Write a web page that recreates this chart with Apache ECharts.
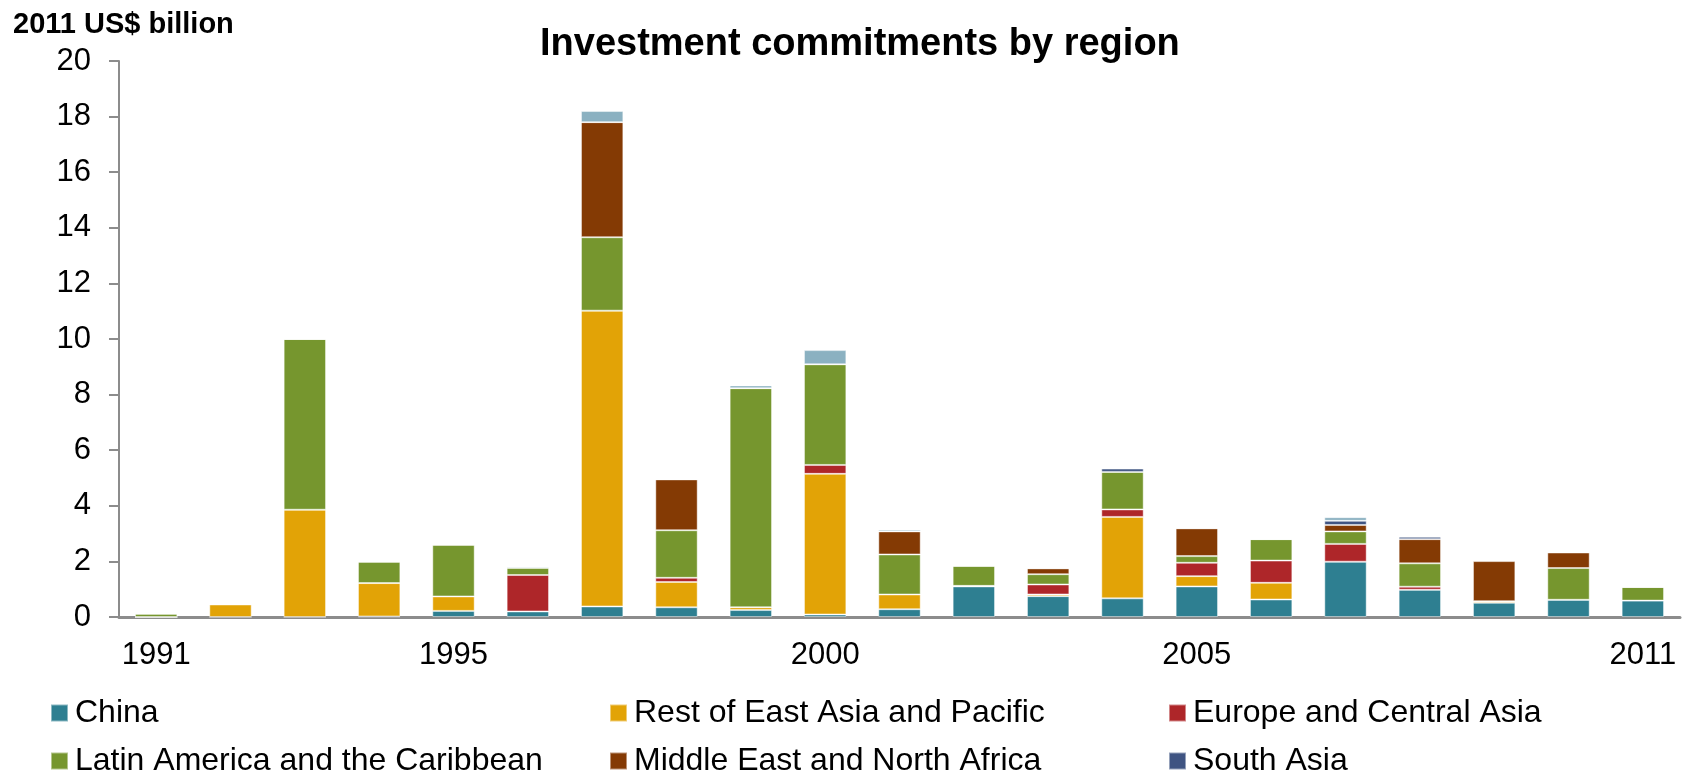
<!DOCTYPE html>
<html>
<head>
<meta charset="utf-8">
<title>Investment commitments by region</title>
<script src="https://cdn.jsdelivr.net/npm/echarts@6/dist/echarts.min.js"></script>
<style>
  html, body { margin: 0; padding: 0; background: #fff; }
  #chart { width: 1684px; height: 772px; }
</style>
</head>
<body>
<div id="chart"></div>
<script>
// 数据：2011 US$ billion
const years = ['1991', '1992', '1993', '1994', '1995', '1996', '1997', '1998', '1999', '2000',
  '2001', '2002', '2003', '2004', '2005', '2006', '2007', '2008', '2009', '2010', '2011']
const xTickLabels = ['1991', '1995', '2000', '2005', '2011']

const china = [0, 0, 0, 0.02, 0.22, 0.2, 0.38, 0.35, 0.25, 0.09, 0.28, 1.1, 0.75, 0.67, 1.1, 0.63, 1.99, 0.98, 0.51, 0.62, 0.59]
const restEastAsia = [0, 0.45, 3.86, 1.2, 0.52, 0, 10.64, 0.91, 0.1, 5.06, 0.53, 0.02, 0.06, 2.93, 0.37, 0.6, 0, 0, 0.06, 0, 0]
const europeCentralAsia = [0, 0, 0, 0, 0, 1.31, 0, 0.15, 0, 0.32, 0, 0, 0.36, 0.27, 0.48, 0.8, 0.64, 0.11, 0, 0, 0]
const latinAmerica = [0.12, 0, 6.14, 0.77, 1.86, 0.26, 2.64, 1.71, 7.88, 3.62, 1.44, 0.72, 0.37, 1.35, 0.24, 0.77, 0.45, 0.84, 0, 1.14, 0.49]
const middleEast = [0, 0, 0, 0, 0, 0, 4.14, 1.83, 0, 0, 0.83, 0, 0.21, 0, 1.0, 0, 0.23, 0.87, 1.44, 0.56, 0]
const southAsia = [0, 0, 0, 0, 0, 0, 0, 0, 0, 0, 0, 0, 0, 0.12, 0, 0, 0.15, 0.09, 0.03, 0, 0]
const subSaharan = [0, 0, 0, 0, 0, 0.05, 0.4, 0, 0.1, 0.51, 0.06, 0, 0, 0, 0, 0, 0.13, 0, 0, 0, 0]

const font = 'Liberation Sans, Arial, sans-serif'

const chart = echarts.init(document.getElementById('chart'))

function bar(name, data, color) {
  return {
    name: name,
    type: 'bar',
    stack: 'total',
    data: data,
    barCategoryGap: '43%',
    itemStyle: {
      color: color,
      borderColor: 'rgba(255,255,255,0.45)',
      borderWidth: 1
    }
  }
}

// 每个图例单独放，排成两行三列
function legendItem(left, top, name) {
  return {
    left: left,
    top: top,
    data: [name],
    icon: 'rect',
    itemWidth: 17,
    itemHeight: 17,
    selectedMode: false,
    padding: 0,
    textStyle: {
      fontFamily: font,
      fontSize: 32,
      color: '#000',
      lineHeight: 32,
      padding: [0, 0, 0, 2]
    }
  }
}

chart.setOption({
  animation: false,
  title: [
    {
      text: 'Investment commitments by region',
      left: 540,
      top: 26,
      padding: 0,
      textStyle: { fontFamily: font, fontSize: 38, fontWeight: 'bold', color: '#000' }
    },
    {
      text: '2011 US$ billion',
      left: 13,
      top: 10,
      padding: 0,
      textStyle: { fontFamily: font, fontSize: 29, fontWeight: 'bold', color: '#000' }
    }
  ],
  legend: [
    legendItem(50, 697, 'China'),
    legendItem(609, 697, 'Rest of East Asia and Pacific'),
    legendItem(1168, 697, 'Europe and Central Asia'),
    legendItem(50, 745, 'Latin America and the Caribbean'),
    legendItem(609, 745, 'Middle East and North Africa'),
    legendItem(1168, 745, 'South Asia')
  ],
  grid: {
    left: 119,
    right: 4,
    top: 61,
    bottom: 155
  },
  xAxis: {
    type: 'category',
    data: years,
    axisLine: { lineStyle: { color: '#8c8c8c', width: 3 } },
    axisTick: { show: false },
    axisLabel: {
      interval: (idx, val) => xTickLabels.includes(val),
      fontFamily: font,
      fontSize: 31,
      color: '#000',
      margin: 23
    }
  },
  yAxis: {
    type: 'value',
    min: 0,
    max: 20,
    interval: 2,
    axisLine: { show: true, lineStyle: { color: '#8c8c8c', width: 2 } },
    axisTick: { show: true, length: 10, lineStyle: { color: '#8c8c8c', width: 2 } },
    splitLine: { show: false },
    axisLabel: {
      fontFamily: font,
      fontSize: 31,
      color: '#000',
      margin: 28
    }
  },
  series: [
    bar('China', china, '#2E7F91'),
    bar('Rest of East Asia and Pacific', restEastAsia, '#E2A306'),
    bar('Europe and Central Asia', europeCentralAsia, '#AE2629'),
    bar('Latin America and the Caribbean', latinAmerica, '#76962E'),
    bar('Middle East and North Africa', middleEast, '#843A04'),
    bar('South Asia', southAsia, '#3F5482'),
    bar('Sub-Saharan Africa', subSaharan, '#8BB1C1')
  ]
})
</script>
</body>
</html>
